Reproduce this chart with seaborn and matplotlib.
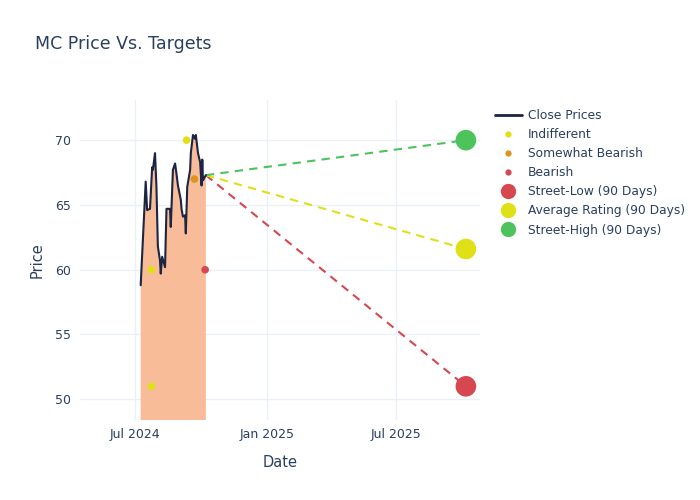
import matplotlib
matplotlib.use("Agg")
import matplotlib.pyplot as plt
import matplotlib.dates as mdates
from matplotlib.lines import Line2D
import seaborn as sns
import pandas as pd

# ---- data ----
close_dates = ["2024-07-09", "2024-07-16", "2024-07-18", "2024-07-22", "2024-07-25", "2024-07-26",
               "2024-07-29", "2024-07-31", "2024-08-02", "2024-08-05", "2024-08-06", "2024-08-08",
               "2024-08-12", "2024-08-14", "2024-08-19", "2024-08-20", "2024-08-23", "2024-08-26",
               "2024-08-28", "2024-08-30", "2024-09-03", "2024-09-04", "2024-09-06", "2024-09-09",
               "2024-09-10", "2024-09-12", "2024-09-16", "2024-09-17", "2024-09-20", "2024-09-23",
               "2024-09-24", "2024-09-27", "2024-09-30", "2024-10-02", "2024-10-03", "2024-10-04",
               "2024-10-08"]
close_prices = [58.8, 66.8, 64.6, 64.7, 67.9, 67.7,
                69.0, 66.4, 61.8, 60.7, 59.7, 61.0,
                60.2, 64.7, 64.7, 63.3, 67.7, 68.2,
                67.4, 66.5, 65.4, 64.7, 64.1, 64.2,
                62.8, 66.4, 67.7, 69.0, 70.4, 70.1,
                70.4, 69.0, 68.3, 66.5, 68.5, 66.9,
                67.3]

rating_dates = ["2024-07-24", "2024-07-24", "2024-09-11", "2024-09-22", "2024-10-07"]
rating_values = [60, 51, 70, 67, 60]
rating_labels = ["Indifferent", "Indifferent", "Indifferent", "Somewhat Bearish", "Bearish"]

target_date = "2025-10-06"
target_names = ["Street-Low (90 Days)", "Average Rating (90 Days)", "Street-High (90 Days)"]
target_values = [51.0, 61.6, 70.0]

# ---- styling ----
TXT = "#2a3f5f"
GRID = "#EBF0F8"
rating_colors = {"Indifferent": "#DFE016", "Somewhat Bearish": "#DE9220", "Bearish": "#D6474F"}
target_colors = ["#D6474F", "#DFE016", "#4DC35C"]
LINE = "#1c2541"
FILL = "#F9BC99"

sns.set_theme(style="white")
plt.rcParams["font.family"] = ["DejaVu Sans"]

fig = plt.figure(figsize=(7, 5), dpi=100)
ax = fig.add_axes([0.114, 0.16, 0.572, 0.64])

df = pd.DataFrame({"Date": pd.to_datetime(close_dates), "Price": close_prices})
rdf = pd.DataFrame({"Date": pd.to_datetime(rating_dates), "Price": rating_values, "Rating": rating_labels})
tdate = pd.to_datetime(target_date)

ax.fill_between(df["Date"], df["Price"], 0, color=FILL, linewidth=0, zorder=1)
sns.lineplot(data=df, x="Date", y="Price", ax=ax, color=LINE, linewidth=1.5, zorder=3, legend=False)

last_d = df["Date"].iloc[-1]
last_p = df["Price"].iloc[-1]
for v, c in zip(target_values, target_colors):
    ax.plot([last_d, tdate], [last_p, v], linestyle=(0, (4, 3)), color=c, linewidth=1.5, zorder=2)

sns.scatterplot(data=rdf, x="Date", y="Price", hue="Rating", palette=rating_colors, s=30,
                edgecolor="none", ax=ax, zorder=4, legend=False)

tdf = pd.DataFrame({"Date": [tdate] * 3, "Price": target_values, "Name": target_names})
sns.scatterplot(data=tdf, x="Date", y="Price", hue="Name",
                palette=dict(zip(target_names, target_colors)), s=220, edgecolor="none",
                ax=ax, zorder=5, legend=False)

ax.set_xlim(pd.Timestamp("2024-04-15"), pd.Timestamp("2025-10-26"))
ax.set_ylim(48.4, 73.1)
ax.set_yticks([50, 55, 60, 65, 70])
ax.xaxis.set_major_locator(mdates.MonthLocator(bymonth=[1, 7]))
ax.xaxis.set_major_formatter(mdates.DateFormatter("%b %Y"))
ax.grid(True, color=GRID, linewidth=1)
ax.set_axisbelow(True)
for s in ax.spines.values():
    s.set_visible(False)
ax.tick_params(axis="both", length=0, labelsize=9, colors=TXT, pad=6)
ax.set_xlabel("Date", fontsize=10.5, color=TXT, labelpad=10)
ax.set_ylabel("Price", fontsize=10.5, color=TXT, labelpad=8)

fig.text(0.05, 0.912, "MC Price Vs. Targets", fontsize=12.5, color=TXT, va="center")

handles = [Line2D([0], [0], color=LINE, linewidth=2, label="Close Prices")]
for name in ["Indifferent", "Somewhat Bearish", "Bearish"]:
    handles.append(Line2D([0], [0], marker="o", linestyle="", markersize=4.5,
                          markerfacecolor=rating_colors[name], markeredgecolor="none", label=name))
for name, c in zip(target_names, target_colors):
    handles.append(Line2D([0], [0], marker="o", linestyle="", markersize=11,
                          markerfacecolor=c, markeredgecolor="none", label=name))
leg = fig.legend(handles=handles, loc="upper left", bbox_to_anchor=(0.700, 0.792),
                 frameon=False, fontsize=8.8, labelspacing=0.5, handlelength=2.2,
                 handletextpad=0.5, borderaxespad=0)
for t in leg.get_texts():
    t.set_color(TXT)

fig.savefig("out.png", dpi=100)
